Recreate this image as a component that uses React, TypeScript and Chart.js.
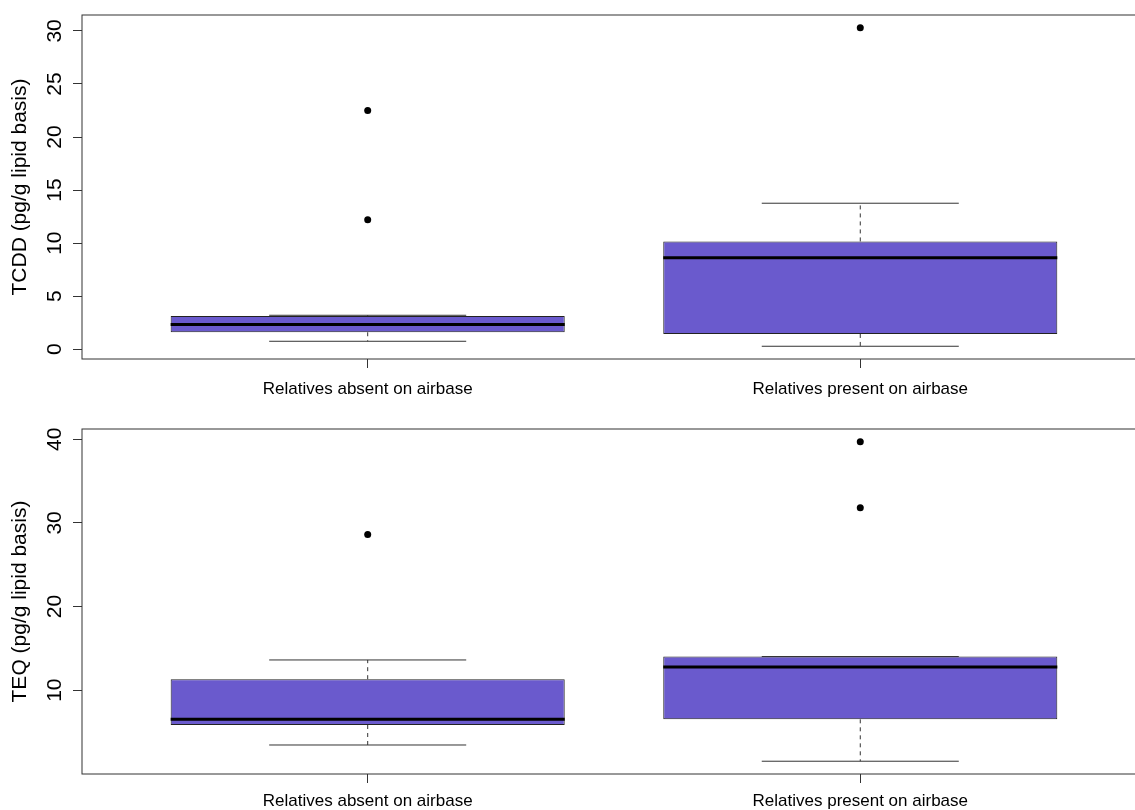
import React, { useEffect, useRef } from "react";
import { Chart, registerables } from "chart.js";

Chart.register(...registerables);

// ---------- data ----------
const groups = ["Relatives absent on airbase", "Relatives present on airbase"];
const groupPositions = [1, 2];

// TCDD panel (pg/g lipid basis)
const tcddLowerWhisker = [0.75, 0.28];
const tcddQ1 = [1.6, 1.44];
const tcddMedian = [2.32, 8.63];
const tcddQ3 = [3.13, 10.16];
const tcddUpperWhisker = [3.2, 13.76];
const tcddOutliers = [[22.5, 12.2], [30.3]];
const tcddTicks = [0, 5, 10, 15, 20, 25, 30];

// TEQ panel (pg/g lipid basis)
const teqLowerWhisker = [3.44, 1.5];
const teqQ1 = [5.83, 6.51];
const teqMedian = [6.51, 12.78];
const teqQ3 = [11.31, 14.02];
const teqUpperWhisker = [13.61, 14.02];
const teqOutliers = [[28.6], [39.7, 31.8]];
const teqTicks = [10, 20, 30, 40];

// ---------- styling ----------
const BOX_FILL = "#6A5ACD";
const LINE = "#222222";
const FONT = "'Liberation Sans', Arial, Helvetica, sans-serif";
const CANVAS_W = 1148;
const CANVAS_H = 405;

type Panel = {
  title: string;
  lo: number[];
  q1: number[];
  med: number[];
  q3: number[];
  hi: number[];
  out: number[][];
  ticks: number[];
  padTop: number;
  xAxisHeight: number;
  labelPad: number;
};

const framePlugin = {
  id: "frame",
  afterDraw(chart: any) {
    const { ctx, chartArea } = chart;
    ctx.save();
    ctx.strokeStyle = "#333";
    ctx.lineWidth = 1;
    ctx.strokeRect(chartArea.left, chartArea.top, chartArea.right - chartArea.left, chartArea.bottom - chartArea.top);
    ctx.restore();
  },
};

function buildConfig(p: Panel): any {
  const all: number[] = [...p.lo, ...p.hi, ...p.out.flat()];
  const dMin = Math.min(...all);
  const dMax = Math.max(...all);
  const ext = (dMax - dMin) * 0.04;

  const datasets: any[] = [];
  datasets.push({
    type: "bar",
    data: groupPositions.map((x, i) => ({ x, y: [p.q1[i], p.q3[i]] })),
    backgroundColor: BOX_FILL,
    borderColor: LINE,
    borderWidth: 1,
    borderSkipped: false,
    categoryPercentage: 0.8,
    barPercentage: 1.0,
    order: 10,
  });
  const line = (pts: { x: number; y: number }[], extra: any) => ({
    type: "line",
    data: pts,
    borderColor: "#000",
    borderWidth: 1,
    pointRadius: 0,
    fill: false,
    tension: 0,
    order: 2,
    ...extra,
  });
  groupPositions.forEach((x, i) => {
    // whiskers (dashed)
    datasets.push(line([{ x, y: p.q3[i] }, { x, y: p.hi[i] }], { borderDash: [4, 4], borderColor: "#333" }));
    datasets.push(line([{ x, y: p.q1[i] }, { x, y: p.lo[i] }], { borderDash: [4, 4], borderColor: "#333" }));
    // staples
    datasets.push(line([{ x: x - 0.2, y: p.hi[i] }, { x: x + 0.2, y: p.hi[i] }], { borderColor: "#333" }));
    datasets.push(line([{ x: x - 0.2, y: p.lo[i] }, { x: x + 0.2, y: p.lo[i] }], { borderColor: "#333" }));
    // median
    datasets.push(line([{ x: x - 0.4, y: p.med[i] }, { x: x + 0.4, y: p.med[i] }], { borderWidth: 3, order: 1 }));
  });
  datasets.push({
    type: "scatter",
    data: groupPositions.flatMap((x, i) => p.out[i].map((y) => ({ x, y }))),
    backgroundColor: "#000",
    borderColor: "#000",
    pointRadius: 3.5,
    borderWidth: 0,
    order: 0,
  });

  return {
    type: "bar",
    data: { datasets },
    plugins: [framePlugin],
    options: {
      responsive: false,
      animation: false,
      devicePixelRatio: 1,
      layout: { padding: { top: p.padTop, left: 0, right: 0, bottom: 0 } },
      plugins: { legend: { display: false }, tooltip: { enabled: false } },
      scales: {
        x: {
          type: "linear",
          offset: false,
          min: 0.42,
          max: 2.576,
          afterBuildTicks: (s: any) => {
            s.ticks = groupPositions.map((v) => ({ value: v }));
          },
          afterFit: (s: any) => {
            s.height = p.xAxisHeight;
            s.paddingLeft = 0;
            s.paddingRight = 0;
            s.paddingTop = 0;
            s.paddingBottom = 0;
          },
          grid: { offset: false, drawOnChartArea: false, drawTicks: true, tickLength: 9, color: "#333", lineWidth: 1 },
          border: { display: false },
          ticks: {
            autoSkip: false,
            maxRotation: 0,
            minRotation: 0,
            padding: p.labelPad,
            color: "#000",
            font: { family: FONT, size: 17 },
            callback: (_v: any, idx: number) => groups[idx],
          },
        },
        y: {
          type: "linear",
          min: dMin - ext,
          max: dMax + ext,
          afterBuildTicks: (s: any) => {
            s.ticks = p.ticks.map((v) => ({ value: v }));
          },
          afterFit: (s: any) => {
            s.width = 82;
            s.paddingLeft = 0;
            s.paddingRight = 0;
            s.paddingTop = 0;
            s.paddingBottom = 0;
          },
          grid: { drawOnChartArea: false, drawTicks: true, tickLength: 9, color: "#333", lineWidth: 1 },
          border: { display: false },
          title: {
            display: true,
            text: p.title,
            color: "#000",
            font: { family: FONT, size: 21 },
            padding: { top: 8, bottom: 0 },
          },
          ticks: {
            minRotation: 90,
            maxRotation: 90,
            crossAlign: "center",
            padding: 6,
            color: "#000",
            font: { family: FONT, size: 21 },
            callback: (v: any) => String(v),
          },
        },
      },
    },
  };
}

const panels: Panel[] = [
  {
    title: "TCDD (pg/g lipid basis)",
    lo: tcddLowerWhisker,
    q1: tcddQ1,
    med: tcddMedian,
    q3: tcddQ3,
    hi: tcddUpperWhisker,
    out: tcddOutliers,
    ticks: tcddTicks,
    padTop: 15,
    xAxisHeight: 46,
    labelPad: 11,
  },
  {
    title: "TEQ (pg/g lipid basis)",
    lo: teqLowerWhisker,
    q1: teqQ1,
    med: teqMedian,
    q3: teqQ3,
    hi: teqUpperWhisker,
    out: teqOutliers,
    ticks: teqTicks,
    padTop: 24,
    xAxisHeight: 36,
    labelPad: 8,
  },
];

function BoxPanel({ panel }: { panel: Panel }) {
  const ref = useRef<HTMLCanvasElement | null>(null);
  useEffect(() => {
    if (!ref.current) return;
    const chart = new Chart(ref.current, buildConfig(panel));
    return () => chart.destroy();
  }, [panel]);
  return (
    <div style={{ width: CANVAS_W, height: CANVAS_H }}>
      <canvas ref={ref} width={CANVAS_W} height={CANVAS_H} style={{ display: "block" }} />
    </div>
  );
}

export default function App() {
  return (
    <div
      style={{
        position: "absolute",
        left: 0,
        top: 0,
        width: 1135,
        height: 810,
        overflow: "hidden",
        background: "#fff",
      }}
    >
      {panels.map((p, i) => (
        <BoxPanel key={i} panel={p} />
      ))}
    </div>
  );
}
